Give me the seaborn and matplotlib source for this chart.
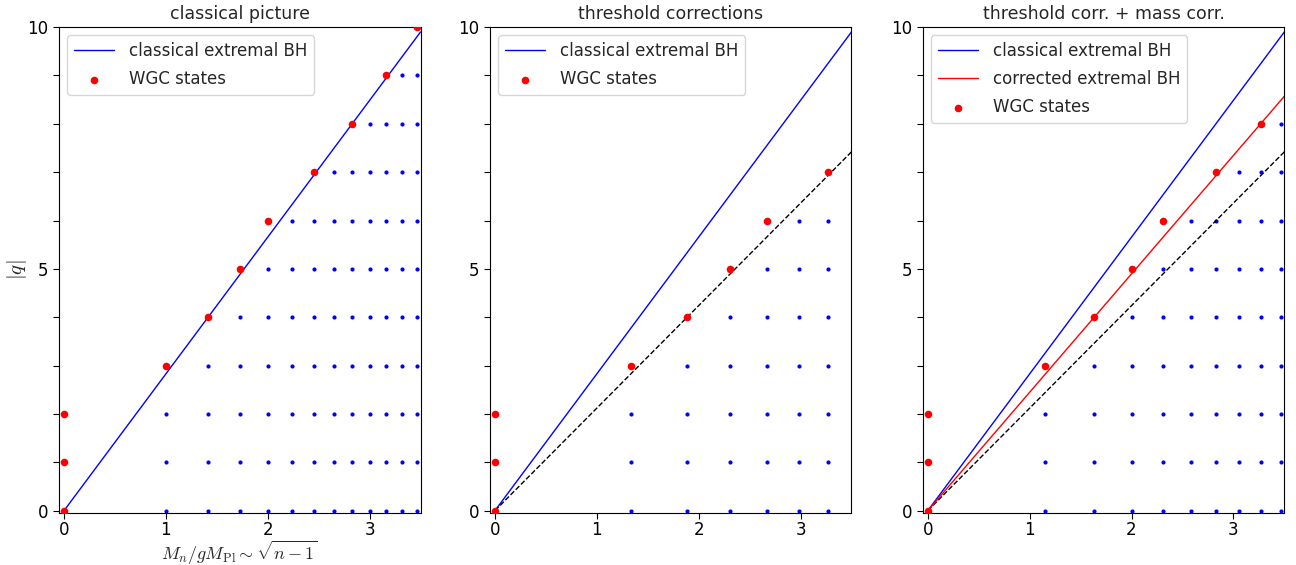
import numpy as np
import pandas as pd
import matplotlib
matplotlib.use("Agg")
import matplotlib.pyplot as plt
import seaborn as sns
from matplotlib.ticker import MultipleLocator

sns.set_style("ticks", {"axes.edgecolor": "black", "xtick.color": "black", "ytick.color": "black"})
plt.rcParams["font.family"] = ["DejaVu Sans"]
plt.rcParams["mathtext.fontset"] = "cm"

titles = ["classical picture", "threshold corrections", "threshold corr. + mass corr."]

# tower columns (M_n / g M_Pl) and highest sub-extremal charge per column (blue dots)
cols_classical = [1.0, 1.414, 1.732, 2.0, 2.236, 2.449, 2.646, 2.828, 3.0, 3.162, 3.317, 3.464]
qmax_classical = [2, 3, 4, 5, 6, 6, 7, 7, 8, 8, 9, 9]
cols_threshold = [1.333, 1.886, 2.309, 2.667, 2.981, 3.266]
qmax_threshold = [2, 3, 4, 5, 6, 6]
cols_masscorr = [1.155, 1.633, 2.0, 2.309, 2.582, 2.828, 3.055, 3.266, 3.464]
qmax_masscorr = [2, 3, 4, 5, 6, 6, 7, 7, 8]

# WGC states (red dots)
wgc_x_classical = [0, 0, 0, 1.0, 1.414, 1.732, 2.0, 2.449, 2.828, 3.162, 3.464]
wgc_q_classical = [0, 1, 2, 3, 4, 5, 6, 7, 8, 9, 10]
wgc_x_threshold = [0, 0, 0, 1.333, 1.886, 2.309, 2.667, 3.266]
wgc_q_threshold = [0, 1, 2, 3, 4, 5, 6, 7]
wgc_x_masscorr = [0, 0, 0, 1.155, 1.633, 2.0, 2.309, 2.828, 3.266]
wgc_q_masscorr = [0, 1, 2, 3, 4, 5, 6, 7, 8]

# extremal black hole lines (end points)
line_x = [0, 3.5]
classical_bh = [0, 9.9]
threshold_bh = [0, 7.42]
corrected_bh = [0, 8.57]


def grid_points(cols, qmax):
    rows = []
    for x, qm in zip(cols, qmax):
        for q in range(qm + 1):
            rows.append({"x": x, "q": q})
    return pd.DataFrame(rows)


panels = [
    (cols_classical, qmax_classical, wgc_x_classical, wgc_q_classical),
    (cols_threshold, qmax_threshold, wgc_x_threshold, wgc_q_threshold),
    (cols_masscorr, qmax_masscorr, wgc_x_masscorr, wgc_q_masscorr),
]

fig = plt.figure(figsize=(12.96, 5.65), dpi=100)
lefts = [0.0455, 0.378, 0.712]

for i, (cols, qmax, wx, wq) in enumerate(panels):
    ax = fig.add_axes([lefts[i], 0.092, 0.279, 0.860])

    grid = grid_points(cols, qmax)
    sns.scatterplot(data=grid, x="x", y="q", color="blue", s=9, linewidth=0, ax=ax, zorder=2)

    sns.lineplot(x=line_x, y=classical_bh, color="blue", lw=1, label="classical extremal BH", ax=ax)
    if i >= 1:
        sns.lineplot(x=line_x, y=threshold_bh, color="black", lw=1, linestyle="--", ax=ax)
    if i == 2:
        sns.lineplot(x=line_x, y=corrected_bh, color="red", lw=1, label="corrected extremal BH", ax=ax)

    sns.scatterplot(x=wx, y=wq, color="red", s=30, linewidth=0, label="WGC states", ax=ax, zorder=3)

    ax.set_xlim(-0.05, 3.5)
    ax.set_ylim(-0.05, 10)
    ax.xaxis.set_major_locator(MultipleLocator(1))
    ax.yaxis.set_major_locator(MultipleLocator(5))
    ax.yaxis.set_minor_locator(MultipleLocator(1))
    ax.tick_params(which="major", length=4, width=0.8, labelsize=12)
    ax.tick_params(axis="x", which="major", pad=1.5)
    ax.tick_params(which="minor", length=4, width=0.8)
    ax.set_title(titles[i], fontsize=12.5)
    ax.set_xlabel("")
    ax.set_ylabel("")
    ax.legend(loc="upper left", fontsize=12, scatterpoints=1,
              handlelength=2.4, handletextpad=0.9, labelspacing=0.6)

    if i == 0:
        ax.set_xlabel(r"$M_n/gM_{\rm Pl}\sim\sqrt{n-1}$", fontsize=13, labelpad=0)
        ax.set_ylabel(r"$|q|$", fontsize=15, labelpad=-1)

fig.savefig("out.png", dpi=100)
